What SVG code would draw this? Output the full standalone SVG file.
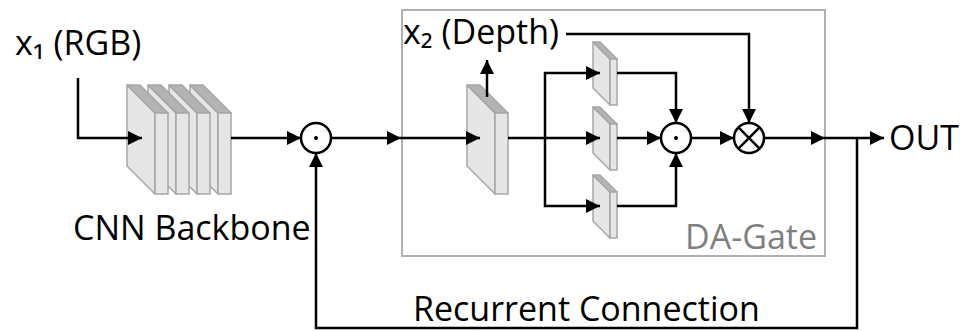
<svg xmlns="http://www.w3.org/2000/svg" width="968" height="331" viewBox="0 0 968 331">
  <defs>
    <marker id="arrow" markerUnits="userSpaceOnUse" markerWidth="16" markerHeight="16" refX="14" refY="7" orient="auto">
      <path d="M0,0 L14,7 L0,14 z" fill="#000"/>
    </marker>
  </defs>
  <style>
    .lbl { font-family: "Open Sans", "Noto Sans", "DejaVu Sans", sans-serif; font-size: 34px; fill: #000; }
    .gate-lbl { fill: #7f7f7f; }
    .side { fill: #e6e6e6; stroke: #a6a6a6; stroke-width: 1.5; stroke-linejoin: round; }
    .top { fill: #b3b3b3; stroke: #a6a6a6; stroke-width: 1.5; stroke-linejoin: round; }
    .front { fill: #e6e6e6; stroke: #a6a6a6; stroke-width: 1.5; }
    .wire { fill: none; stroke: #000; stroke-width: 2.5; }
    .arr { marker-end: url(#arrow); }
    .op { fill: #fff; stroke: #000; stroke-width: 2.5; }
    .gate-box { fill: none; stroke: #b0b0b0; stroke-width: 2; }
  </style>

  <!-- DA-Gate container -->
  <g id="da-gate">
    <rect class="gate-box" x="402" y="10" width="423" height="246"/>
    <text class="lbl gate-lbl" x="817" y="249" text-anchor="end">DA-Gate</text>
  </g>

  <!-- Input label -->
  <g id="input-rgb">
    <text class="lbl" x="15" y="55">x₁ (RGB)</text>
  </g>

  <!-- CNN backbone: four stacked feature blocks, drawn back to front -->
  <g id="cnn-backbone">
    <g transform="translate(63,0)">
      <polygon class="side" points="127,85 155,113 155,194 127,166"/>
      <polygon class="top" points="127,85 140,85 168,113 155,113"/>
      <rect class="front" x="155" y="113" width="13" height="81"/>
    </g>
    <g transform="translate(42,0)">
      <polygon class="side" points="127,85 155,113 155,194 127,166"/>
      <polygon class="top" points="127,85 140,85 168,113 155,113"/>
      <rect class="front" x="155" y="113" width="13" height="81"/>
    </g>
    <g transform="translate(21,0)">
      <polygon class="side" points="127,85 155,113 155,194 127,166"/>
      <polygon class="top" points="127,85 140,85 168,113 155,113"/>
      <rect class="front" x="155" y="113" width="13" height="81"/>
    </g>
    <g>
      <polygon class="side" points="127,85 155,113 155,194 127,166"/>
      <polygon class="top" points="127,85 140,85 168,113 155,113"/>
      <rect class="front" x="155" y="113" width="13" height="81"/>
    </g>
    <text class="lbl" x="73" y="240">CNN Backbone</text>
  </g>

  <!-- Element-wise product with recurrent state -->
  <g id="mul-recurrent">
    <circle class="op" cx="316" cy="138" r="15"/>
    <circle cx="316" cy="138" r="2" fill="#000"/>
  </g>

  <!-- Depth estimation block -->
  <g id="depth-block">
    <polygon class="side" points="467,85 495,113 495,194 467,166"/>
    <polygon class="top" points="467,85 480,85 508,113 495,113"/>
    <rect class="front" x="495" y="113" width="13" height="81"/>
  </g>

  <g id="depth-label">
    <text class="lbl" x="403" y="44">x₂ (Depth)</text>
  </g>

  <!-- Three parallel gate branches -->
  <g id="branch-1">
    <polygon class="side" points="593,42 610,59 610,105 593,88"/>
    <polygon class="top" points="593,42 600,42 617,59 610,59"/>
    <rect class="front" x="610" y="59" width="7" height="46"/>
  </g>
  <g id="branch-2">
    <polygon class="side" points="593,107 610,124 610,170 593,153"/>
    <polygon class="top" points="593,107 600,107 617,124 610,124"/>
    <rect class="front" x="610" y="124" width="7" height="46"/>
  </g>
  <g id="branch-3">
    <polygon class="side" points="593,175 610,192 610,238 593,221"/>
    <polygon class="top" points="593,175 600,175 617,192 610,192"/>
    <rect class="front" x="610" y="192" width="7" height="46"/>
  </g>

  <!-- Branch product -->
  <g id="mul-branches">
    <circle class="op" cx="676" cy="138" r="15"/>
    <circle cx="676" cy="138" r="2" fill="#000"/>
  </g>

  <!-- Depth-weighted product -->
  <g id="mul-depth">
    <circle class="op" cx="749" cy="138" r="15"/>
    <path class="wire" d="M738.4,127.4 L759.6,148.6 M759.6,127.4 L738.4,148.6"/>
  </g>

  <g id="output">
    <text class="lbl" x="889" y="150">OUT</text>
  </g>

  <g id="recurrent-label">
    <text class="lbl" x="413" y="321">Recurrent Connection</text>
  </g>

  <!-- Connectors, drawn over the blocks -->
  <g id="connectors">
    <path class="wire arr" d="M78,78 V138 H142"/>
    <path class="wire arr" d="M231,138 H301"/>
    <path class="wire arr" d="M331,138 H401"/>
    <path class="wire arr" d="M401,138 H480"/>
    <path class="wire arr" d="M487,97 V60"/>
    <path class="wire arr" d="M508,138 H600"/>
    <path class="wire arr" d="M545,138 V73 H600"/>
    <path class="wire arr" d="M545,138 V206 H600"/>
    <path class="wire arr" d="M617,73 H676 V123"/>
    <path class="wire arr" d="M617,138 H661"/>
    <path class="wire arr" d="M617,206 H676 V153"/>
    <path class="wire arr" d="M691,138 H734"/>
    <path class="wire arr" d="M566,34 H749 V123"/>
    <path class="wire arr" d="M764,138 H825"/>
    <path class="wire arr" d="M825,138 H884"/>
    <path class="wire arr" d="M857,138 V328 H316 V153"/>
  </g>
</svg>
